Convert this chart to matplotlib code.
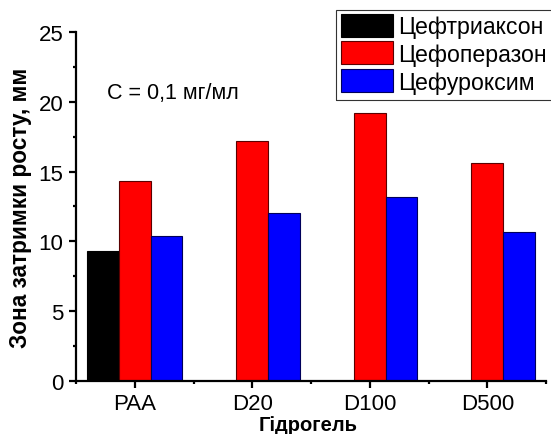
import matplotlib
matplotlib.use("Agg")
import matplotlib.pyplot as plt
from matplotlib.patches import Rectangle
from matplotlib.ticker import MultipleLocator, FixedLocator
import numpy as np

plt.rcParams['font.family'] = ['Liberation Sans', 'DejaVu Sans']

categories = ["PAA", "D20", "D100", "D500"]
series_names = ["Цефтриаксон", "Цефоперазон", "Цефуроксим"]
ceftriaxone = [9.3, 0, 0, 0]
cefoperazone = [14.35, 17.2, 19.2, 15.6]
cefuroxime = [10.4, 12.05, 13.2, 10.7]
colors = ["#000000", "#ff0000", "#0000ff"]
edges = ["#000000", "#5a0000", "#00005a"]

W, H = 551, 435
fig = plt.figure(figsize=(W / 100, H / 100), dpi=100)
ax = fig.add_axes([0.138, 0.122, 0.853, 0.802])

x = np.arange(len(categories))
w = 0.27
for i, (vals, name) in enumerate(zip([ceftriaxone, cefoperazone, cefuroxime], series_names)):
    ax.bar(x + (i - 1) * w, vals, width=w, color=colors[i], edgecolor=edges[i],
           linewidth=0.8, label=name)

ax.set_xlim(-0.5, 3.5)
ax.set_ylim(0, 25)
ax.set_xticks(x)
ax.set_xticklabels(categories)
ax.xaxis.set_minor_locator(FixedLocator([-0.5, 0.5, 1.5, 2.5, 3.5]))
ax.yaxis.set_major_locator(MultipleLocator(5))
ax.yaxis.set_minor_locator(MultipleLocator(2.5))

for s in ["top", "right"]:
    ax.spines[s].set_visible(False)
for s in ["left", "bottom"]:
    ax.spines[s].set_linewidth(1.6)

ax.tick_params(axis="both", which="major", direction="out", length=5, width=1.6,
               labelsize=16, pad=4)
ax.tick_params(axis="both", which="minor", direction="out", length=2.5, width=1.6)

ax.set_xlabel("Гідрогель", fontsize=14.5, fontweight="bold", va="baseline")
ax.xaxis.set_label_coords(0.494, -0.142)
ax.set_ylabel("Зона затримки росту, мм", fontsize=16.3, fontweight="bold", labelpad=5)

ax.text(0.065, 0.81, "C = 0,1 мг/мл", transform=ax.transAxes, fontsize=15.5,
        ha="left", va="baseline")

# Legend entries without their own frame; the box around them runs off the right edge
leg = fig.legend(loc="upper left", bbox_to_anchor=(337 / W, 1 - 11 / H),
                 fontsize=16.7, frameon=False,
                 borderpad=0.16, handlelength=2.25, handleheight=1.14,
                 handletextpad=0.24, labelspacing=0.15, borderaxespad=0)
for h in leg.legend_handles:
    h.set_linewidth(0.8)
fig.patches.append(Rectangle((335.5 / W, 1 - 100.7 / H), 0.5, 89.7 / H,
                             transform=fig.transFigure, fill=False,
                             edgecolor="#333333", linewidth=0.8))

fig.savefig("out.png", dpi=100)
